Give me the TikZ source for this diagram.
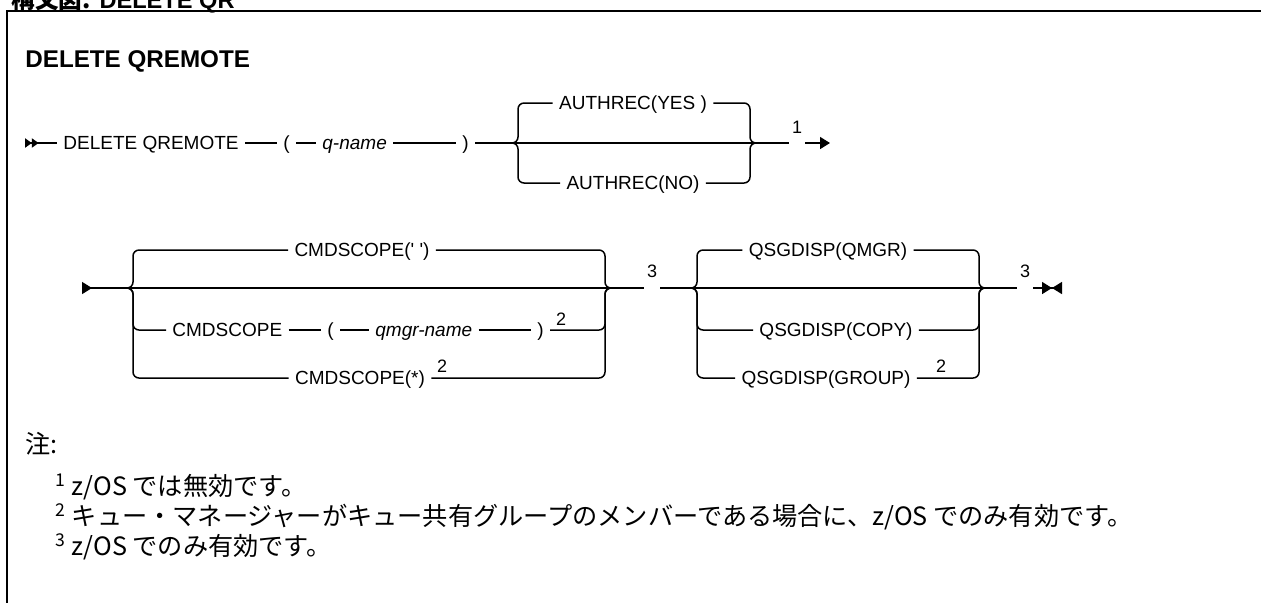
\documentclass[tikz,border=0pt]{standalone}
\usepackage{fontspec}
\setmainfont{Liberation Sans}
\newfontfamily\cjk{Noto Sans CJK JP}
\usetikzlibrary{arrows.meta}

\begin{document}
\begin{tikzpicture}[x=0.5pt, y=-0.5pt,
  rail/.style={line width=0.75pt},
  brc/.style={rail, rounded corners=3pt},
  kw/.style={font=\fontsize{9.5}{11}\selectfont, inner xsep=3pt, inner ysep=0pt, text height=6.8pt, text depth=0pt},
  var/.style={kw, font=\fontsize{9.5}{11}\selectfont\itshape},
  mk/.style={font=\fontsize{9}{9}\selectfont, inner xsep=1.5pt, inner ysep=0pt, text height=0pt, text depth=0pt},
  nt/.style={font=\fontsize{9}{9}\selectfont, inner sep=0pt, anchor=base},
  note/.style={font=\cjk\fontsize{12.6}{14}\selectfont, inner sep=0pt, anchor=base west}
]
  \useasboundingbox (0,0) rectangle (1261,602);
  \draw[line width=1pt] (7,610) |- (1270,11);
  \node[anchor=base east, inner sep=0pt, font=\bfseries\fontsize{11.8}{12}\selectfont] (hdr) at (235,8) {{\cjk 構文図:} DELETE QR};
  \node[anchor=base west, inner sep=0pt, font=\bfseries\fontsize{12.1}{14}\selectfont] (title) at (25,67) {DELETE QREMOTE};

  % first line
  \coordinate (s1) at (25,143);
  \node[kw, anchor=west] (del) at (57,143) {DELETE QREMOTE};
  \node[kw, anchor=west] (lp1) at (277,143) {(};
  \node[var, anchor=west] (qn) at (316,143) {q-name};
  \node[kw, anchor=west] (rp1) at (456,143) {)};
  \coordinate (b1l) at (518,143);
  \coordinate (b1r) at (750,143);
  \node[kw] (yes) at (633,103) {AUTHREC(YES )};
  \node[kw] (no) at (633,183) {AUTHREC(NO)};
  \node[mk] (n1) at (797,143) {\raisebox{5pt}{1}};
  \coordinate (e1) at (830,143);

  \draw[rail, {Triangle[reversed,length=3.4pt,width=4.6pt,sep=0pt]Triangle[reversed,length=3.4pt,width=4.6pt,sep=0pt]}-] (s1) -- (del);
  \draw[rail] (del) -- (lp1) -- (qn) -- (rp1) -- (n1);
  \draw[rail, -{Triangle[length=5pt,width=6pt]}] (n1) -- (e1);
  \foreach \r in {yes,no} {
    \draw[brc] ([xshift=-3pt]b1l) -| (b1l |- \r) -- (\r);
    \draw[brc] (\r) -- (b1r |- \r) |- ([xshift=3pt]b1r);
  }

  % second line
  \coordinate (s2) at (82,288);
  \coordinate (b2l) at (133,288);
  \coordinate (b2r) at (605,288);
  \node[kw] (cs1) at (362,250) {CMDSCOPE(\textquotesingle\ \textquotesingle)};
  \node[kw, anchor=west] (cs2) at (166,330) {CMDSCOPE};
  \node[kw, anchor=west] (lp2) at (321,330) {(};
  \node[var, anchor=west] (qm) at (369,330) {qmgr-name};
  \node[kw, anchor=west] (rp2) at (531,330) {)};
  \node[nt] (sup2a) at (561,325) {2};
  \node[kw] (cs3) at (360,378) {CMDSCOPE(*)};
  \node[nt] (sup2b) at (442,372) {2};
  \node[mk] (n3a) at (652,288) {\raisebox{5.5pt}{3}};
  \coordinate (b3l) at (697,288);
  \coordinate (b3r) at (979,288);
  \node[kw] (qs1) at (828,250) {QSGDISP(QMGR)};
  \node[kw] (qs2) at (836,330) {QSGDISP(COPY)};
  \node[kw] (qs3) at (826,378) {QSGDISP(GROUP)};
  \node[nt] (sup2c) at (941,372) {2};
  \node[mk] (n3b) at (1025,288) {\raisebox{5.5pt}{3}};
  \coordinate (e2) at (1062,288);

  \draw[rail, {Triangle[reversed,length=5pt,width=6pt]}-] (s2) -- (n3a);
  \draw[rail] (n3a) -- (n3b);
  \draw[rail, -{Triangle[length=5pt,width=6pt,sep=0pt]Triangle[reversed,length=5pt,width=6pt]}] (n3b) -- (e2);
  \draw[rail] (cs2) -- (lp2) -- (qm) -- (rp2);
  \foreach \r in {cs1,cs2,cs3} \draw[brc] ([xshift=-3pt]b2l) -| (b2l |- \r) -- (\r);
  \foreach \r in {cs1,rp2,cs3} \draw[brc] (\r) -- (b2r |- \r) |- ([xshift=3pt]b2r);
  \foreach \r in {qs1,qs2,qs3} {
    \draw[brc] ([xshift=-3pt]b3l) -| (b3l |- \r) -- (\r);
    \draw[brc] (\r) -- (b3r |- \r) |- ([xshift=3pt]b3r);
  }

  % notes
  \node[note] (zhu) at (25,453) {注:};
  \node[note] (fn1) at (55,495) {\textsuperscript{1} z/OS では無効です。};
  \node[note] (fn2) at (55,525) {\textsuperscript{2} キュー・マネージャーがキュー共有グループのメンバーである場合に、z/OS でのみ有効です。};
  \node[note] (fn3) at (55,555) {\textsuperscript{3} z/OS でのみ有効です。};
\end{tikzpicture}
\end{document}
